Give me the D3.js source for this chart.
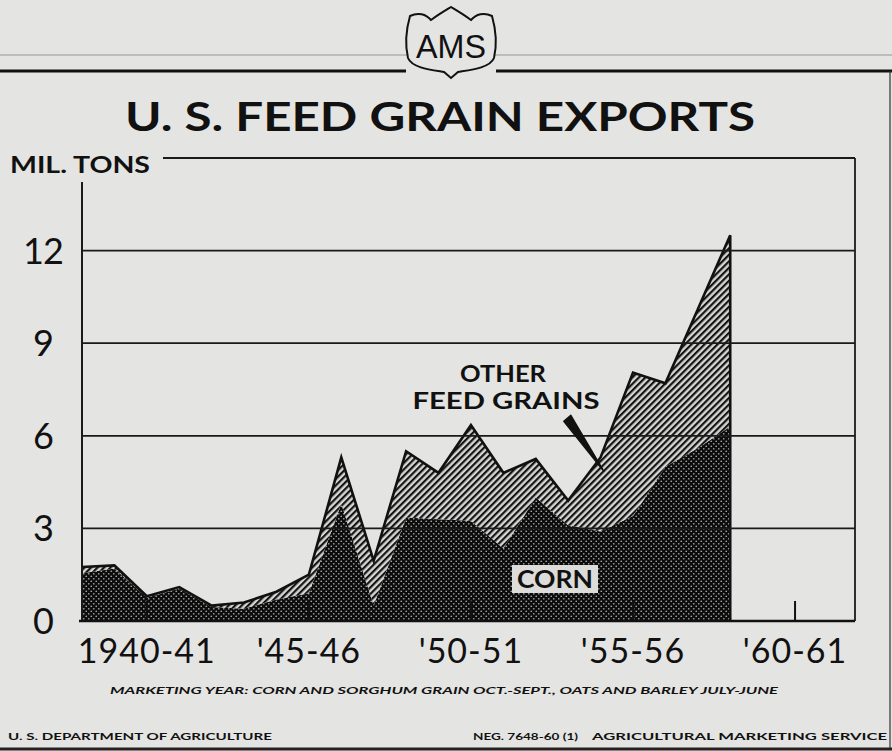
<!DOCTYPE html>
<html>
<head>
<meta charset="utf-8">
<script src="https://cdn.jsdelivr.net/npm/d3@7/dist/d3.min.js"></script>
<style>
  body { margin: 0; background: #e4e4e2; }
  svg { display: block; }
  text { font-family: Lato, "Liberation Sans", sans-serif; fill: #111; }
</style>
</head>
<body>
<div id="chart"></div>
<script>
const svgWidth = 892
const svgHeight = 751

// marketing years (start year), 1938-39 .. 1958-59
const years = [1938, 1939, 1940, 1941, 1942, 1943, 1944, 1945, 1946, 1947, 1948,
  1949, 1950, 1951, 1952, 1953, 1954, 1955, 1956, 1957, 1958]
// million tons
const corn = [1.55, 1.7, 0.75, 1.05, 0.45, 0.4, 0.7, 0.9, 3.8, 0.5, 3.35,
  3.3, 3.25, 2.35, 4.0, 3.1, 2.9, 3.4, 5.0, 5.6, 6.3]
const otherGrains = [0.2, 0.1, 0.05, 0.05, 0.05, 0.2, 0.25, 0.6, 1.5, 1.45, 2.15,
  1.5, 3.1, 2.45, 1.25, 0.8, 2.4, 4.65, 2.7, 4.5, 6.2]

const yTicks = [0, 3, 6, 9, 12]
const xTicks = [1940, 1945, 1950, 1955, 1960]
const xTickLabels = ["1940-41", "'45-46", "'50-51", "'55-56", "'60-61"]

let margin = { top: 158, right: 37, bottom: 130, left: 82 }

let x = d3.scaleLinear().domain([1938, 1961.85]).range([margin.left, svgWidth - margin.right])
let y = d3.scaleLinear().domain([0, 15]).range([svgHeight - margin.bottom, margin.top])

let svg = d3.select("#chart").append("svg")
  .attr("width", svgWidth)
  .attr("height", svgHeight)

let defs = svg.append("defs")

// diagonal hatch for other feed grains
let hatch = defs.append("pattern")
  .attr("id", "hatch")
  .attr("patternUnits", "userSpaceOnUse")
  .attr("width", 4.6).attr("height", 4.6)
  .attr("patternTransform", "rotate(-45)")
hatch.append("rect").attr("width", 4.6).attr("height", 4.6).attr("fill", "#d6d6d4")
hatch.append("rect").attr("width", 4.6).attr("height", 2.2).attr("fill", "#141414")

// dark screen for corn
let dots = defs.append("pattern")
  .attr("id", "dots")
  .attr("patternUnits", "userSpaceOnUse")
  .attr("width", 5).attr("height", 5)
dots.append("rect").attr("width", 5).attr("height", 5).attr("fill", "#0c0c0c")
dots.append("circle").attr("cx", 1.25).attr("cy", 1.25).attr("r", 0.85).attr("fill", "#a6a6a4")
dots.append("circle").attr("cx", 3.75).attr("cy", 3.75).attr("r", 0.85).attr("fill", "#a6a6a4")

// ---- header ----
svg.append("line").attr("x1", 0).attr("x2", svgWidth).attr("y1", 55).attr("y2", 55)
  .attr("stroke", "#bdbdbb").attr("stroke-width", 2)
svg.append("line").attr("x1", 0).attr("x2", 406).attr("y1", 71).attr("y2", 71)
  .attr("stroke", "#111").attr("stroke-width", 3)
svg.append("line").attr("x1", 496).attr("x2", svgWidth).attr("y1", 71).attr("y2", 71)
  .attr("stroke", "#111").attr("stroke-width", 3)
svg.append("line").attr("x1", 890).attr("x2", 890).attr("y1", 71).attr("y2", 748)
  .attr("stroke", "#333").attr("stroke-width", 1.2)

svg.append("path")
  .attr("d", "M410,16 C418,12 426,14 431,20 C439,14 446,10 451,7 C456,10 463,14 471,20 " +
    "C476,14 484,12 492,16 C496,30 497,45 494,58 C490,68 470,70 458,72 L451,78 L444,72 " +
    "C432,70 412,68 408,58 C405,45 406,30 410,16 Z")
  .attr("fill", "#e4e4e2").attr("stroke", "#111").attr("stroke-width", 2)
svg.append("text")
  .attr("x", 451).attr("y", 58)
  .attr("text-anchor", "middle")
  .style("font-family", "'Liberation Sans Narrow', 'Liberation Sans', sans-serif")
  .style("font-size", "33px")
  .attr("textLength", 70).attr("lengthAdjust", "spacingAndGlyphs")
  .text("AMS")

svg.append("text")
  .attr("x", 440).attr("y", 131)
  .attr("text-anchor", "middle")
  .style("font-size", "41px").style("font-weight", "bold")
  .attr("textLength", 630).attr("lengthAdjust", "spacingAndGlyphs")
  .text("U. S. FEED GRAIN EXPORTS")

svg.append("text")
  .attr("x", 10).attr("y", 173)
  .style("font-size", "22px").style("font-weight", "bold")
  .attr("textLength", 140).attr("lengthAdjust", "spacingAndGlyphs")
  .text("MIL. TONS")

// ---- areas ----
let rows = years.map((yr, i) => ({ year: yr, corn: corn[i], other: otherGrains[i] }))
let series = d3.stack().keys(["corn", "other"])(rows)

let area = d3.area()
  .x(d => x(d.data.year))
  .y0(d => y(d[0]))
  .y1(d => y(d[1]))

svg.selectAll(".layer")
  .data(series)
  .enter()
  .append("path")
  .attr("class", "layer")
  .attr("d", area)
  .attr("fill", d => d.key === "corn" ? "url(#dots)" : "url(#hatch)")

// outline of the total
let last = rows[rows.length - 1]
let outline = d3.line().x(d => x(d.year)).y(d => y(d.corn + d.other))
svg.append("path")
  .attr("d", outline(rows) + `L${x(last.year)},${y(0)}`)
  .attr("fill", "none").attr("stroke", "#111").attr("stroke-width", 2.6)
  .attr("stroke-linejoin", "miter")

// ---- grid and frame ----
svg.selectAll(".grid")
  .data(yTicks.filter(d => d > 0))
  .enter()
  .append("line")
  .attr("x1", x.range()[0]).attr("x2", x.range()[1])
  .attr("y1", d => y(d)).attr("y2", d => y(d))
  .attr("stroke", "#1a1a1a").attr("stroke-width", 1.8)

svg.append("line").attr("x1", 163).attr("x2", x.range()[1]).attr("y1", y(15)).attr("y2", y(15))
  .attr("stroke", "#1a1a1a").attr("stroke-width", 1.8)
svg.append("line").attr("x1", x.range()[0]).attr("x2", x.range()[0]).attr("y1", 182).attr("y2", y(0))
  .attr("stroke", "#1a1a1a").attr("stroke-width", 2)
svg.append("line").attr("x1", x.range()[1]).attr("x2", x.range()[1]).attr("y1", y(15)).attr("y2", y(0))
  .attr("stroke", "#1a1a1a").attr("stroke-width", 1.8)
svg.append("line").attr("x1", x.range()[0] - 3).attr("x2", x.range()[1]).attr("y1", y(0)).attr("y2", y(0))
  .attr("stroke", "#111").attr("stroke-width", 2.6)

svg.selectAll(".xtick")
  .data(xTicks)
  .enter()
  .append("line")
  .attr("x1", d => x(d)).attr("x2", d => x(d))
  .attr("y1", y(0)).attr("y2", y(0) - 20)
  .attr("stroke", "#111").attr("stroke-width", 2)

// ---- axis labels ----
svg.selectAll(".ylab")
  .data(yTicks)
  .enter()
  .append("text")
  .attr("x", 43).attr("y", d => y(d) + 13)
  .attr("text-anchor", "middle")
  .style("font-size", "36px")
  .style("letter-spacing", "-1px")
  .text(d => d)

svg.selectAll(".xlab")
  .data(xTicks)
  .enter()
  .append("text")
  .attr("x", d => x(d)).attr("y", 663)
  .attr("text-anchor", "middle")
  .style("font-size", "34px")
  .style("letter-spacing", "1px")
  .text((d, i) => xTickLabels[i])

// ---- series labels ----
svg.append("text")
  .attr("x", 503).attr("y", 382)
  .attr("text-anchor", "middle")
  .style("font-size", "23px").style("font-weight", "bold")
  .attr("textLength", 86).attr("lengthAdjust", "spacingAndGlyphs")
  .text("OTHER")
svg.append("text")
  .attr("x", 506).attr("y", 409)
  .attr("text-anchor", "middle")
  .style("font-size", "23px").style("font-weight", "bold")
  .attr("textLength", 187).attr("lengthAdjust", "spacingAndGlyphs")
  .text("FEED GRAINS")

let tipX = x(1954.1), tipY = y(4.85)
svg.append("path")
  .attr("d", `M${tipX - 40},${tipY - 50} L${tipX - 33},${tipY - 56} L${tipX},${tipY} Z`)
  .attr("fill", "#111").attr("stroke", "#111").attr("stroke-width", 1.5).attr("stroke-linejoin", "round")

svg.append("rect")
  .attr("x", 512).attr("y", 565).attr("width", 86).attr("height", 28)
  .attr("fill", "#dcdcda")
svg.append("text")
  .attr("x", 555).attr("y", 588)
  .attr("text-anchor", "middle")
  .style("font-size", "24px").style("font-weight", "bold")
  .attr("textLength", 76).attr("lengthAdjust", "spacingAndGlyphs")
  .text("CORN")

// ---- footnotes ----
svg.append("text")
  .attr("x", 444).attr("y", 694)
  .attr("text-anchor", "middle")
  .style("font-size", "10px").style("font-weight", "bold").style("font-style", "italic")
  .attr("textLength", 668).attr("lengthAdjust", "spacingAndGlyphs")
  .text("MARKETING YEAR: CORN AND SORGHUM GRAIN OCT.-SEPT., OATS AND BARLEY JULY-JUNE")

svg.append("text")
  .attr("x", 8).attr("y", 740)
  .style("font-size", "10px").style("font-weight", "bold")
  .attr("textLength", 264).attr("lengthAdjust", "spacingAndGlyphs")
  .text("U. S. DEPARTMENT OF AGRICULTURE")
svg.append("text")
  .attr("x", 473).attr("y", 740)
  .style("font-size", "10px").style("font-weight", "bold")
  .attr("textLength", 105).attr("lengthAdjust", "spacingAndGlyphs")
  .text("NEG. 7648-60 (1)")
svg.append("text")
  .attr("x", 592).attr("y", 740)
  .style("font-size", "10px").style("font-weight", "bold")
  .attr("textLength", 295).attr("lengthAdjust", "spacingAndGlyphs")
  .text("AGRICULTURAL MARKETING SERVICE")

svg.append("line").attr("x1", 0).attr("x2", svgWidth).attr("y1", 749).attr("y2", 749)
  .attr("stroke", "#222").attr("stroke-width", 3)
</script>
</body>
</html>
